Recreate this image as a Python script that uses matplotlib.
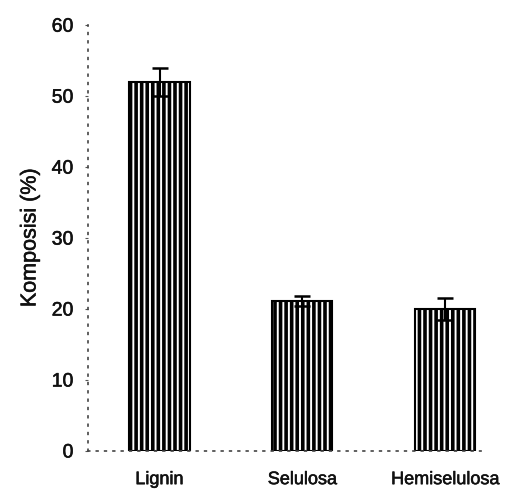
import matplotlib.pyplot as plt
import matplotlib.patheffects as pe

plt.rcParams['font.family'] = ['Liberation Sans', 'DejaVu Sans']

categories = ["Lignin", "Selulosa", "Hemiselulosa"]
values = [52.0, 21.1, 20.0]
errors = [2.0, 0.7, 1.5]
y_ticks = [0, 10, 20, 30, 40, 50, 60]

plt.rcParams['hatch.linewidth'] = 2.6
plt.rcParams['hatch.color'] = 'black'

# slight stroke so the text looks like the scanned original
thick = [pe.withStroke(linewidth=0.4, foreground='#111111')]

fig = plt.figure(figsize=(5.09, 4.90), dpi=100)
ax = fig.add_axes([0.173, 0.0796, 0.772, 0.869])

x = range(len(categories))
ax.bar(x, values, width=0.42, color='white', edgecolor='black',
       linewidth=1.5, hatch='|||', zorder=2)
ax.errorbar(x, values, yerr=errors, fmt='none', ecolor='black',
            elinewidth=1.5, capsize=5.5, capthick=1.8, zorder=3)

ax.set_xlim(-0.5, 2.25)
ax.set_ylim(0, 60)
ax.set_yticks(y_ticks)
ax.set_xticks(list(x))
ax.set_xticklabels(categories, fontsize=13, color='#111111')
ax.tick_params(axis='y', labelsize=14, labelcolor='#111111', length=2,
               color='#555555', pad=8.5)
ax.tick_params(axis='x', length=0, pad=14.5)
ax.set_ylabel("Komposisi (%)", fontsize=15.5, color='#111111', labelpad=8)

for lbl in ax.get_xticklabels() + ax.get_yticklabels() + [ax.yaxis.label]:
    lbl.set_path_effects(thick)

for side in ['top', 'right']:
    ax.spines[side].set_visible(False)
for side in ['left', 'bottom']:
    ax.spines[side].set_linestyle((0, (1, 4)))
    ax.spines[side].set_color('#444444')
    ax.spines[side].set_linewidth(1.2)

fig.savefig("out.png", dpi=100)
